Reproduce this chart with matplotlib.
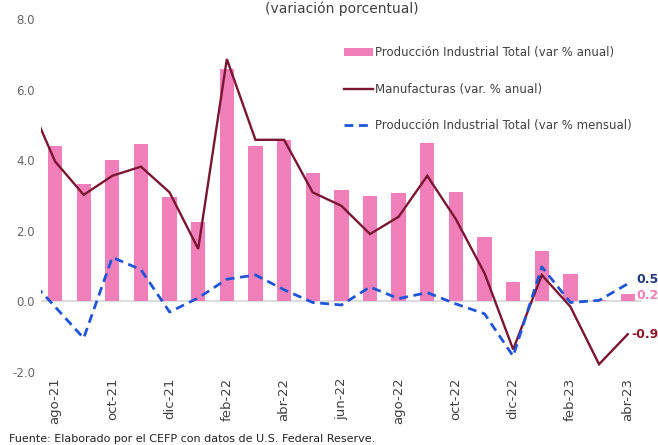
import matplotlib
matplotlib.use("Agg")
import matplotlib.pyplot as plt
import numpy as np
from matplotlib.patches import Patch
from matplotlib.lines import Line2D

months = ["jul-21", "ago-21", "sep-21", "oct-21", "nov-21", "dic-21", "ene-22", "feb-22", "mar-22",
          "abr-22", "may-22", "jun-22", "jul-22", "ago-22", "sep-22", "oct-22", "nov-22",
          "dic-22", "ene-23", "feb-23", "mar-23", "abr-23"]
tick_labels = ["ago-21", "oct-21", "dic-21", "feb-22", "abr-22", "jun-22", "ago-22",
               "oct-22", "dic-22", "feb-23", "abr-23"]
# bars start at ago-21 (jul-21 not shown as bar)
prod_anual = [None, 4.41, 3.34, 4.00, 4.46, 2.96, 2.26, 6.59, 4.41, 4.58, 3.65, 3.17, 2.98, 3.08,
              4.48, 3.09, 1.83, 0.55, 1.43, 0.79, 0.04, 0.22]
manuf_anual = [5.83, 3.97, 3.02, 3.56, 3.82, 3.09, 1.49, 6.87, 4.58, 4.58, 3.09, 2.71, 1.91, 2.40,
               3.56, 2.33, 0.80, -1.36, 0.75, -0.15, -1.78, -0.93]
prod_mensual = [0.73, -0.15, -1.04, 1.25, 0.90, -0.30, 0.10, 0.63, 0.75, 0.33, -0.03, -0.10, 0.41,
                0.08, 0.25, -0.07, -0.35, -1.55, 0.98, -0.03, 0.03, 0.50]

PINK = "#F07FBA"
MAROON = "#7A1632"
BLUE = "#1F55D6"
TXT = "#404040"
GRAY = "#666666"

font = "DejaVu Sans"
plt.rcParams['font.family'] = [font]

fig = plt.figure(figsize=(6.58, 4.45), dpi=100)
ax = fig.add_axes([0.0619, 0.164, 0.9138, 0.793])

x = np.arange(len(months)) - 1  # jul-21 at -1 (outside the view)
bx = [xi for xi, v in zip(x, prod_anual) if v is not None]
bv = [v for v in prod_anual if v is not None]
ax.bar(bx, bv, width=0.5, color=PINK, zorder=2)
ax.plot(x, manuf_anual, color=MAROON, lw=1.7, zorder=3, solid_joinstyle='miter')
ax.plot(x, prod_mensual, color=BLUE, lw=2.0, ls=(0, (3.2, 2.0)), zorder=3)

ax.axhline(0, color="#D9D9D9", lw=1.3, zorder=1)
ax.set_xlim(-0.5, len(months) - 1.5)
ax.set_ylim(-2, 8)
ax.set_yticks(np.arange(-2, 8.1, 2))
ax.set_yticklabels([f"{v:.1f}" for v in np.arange(-2, 8.1, 2)], color=GRAY, fontsize=8.5)
tick_pos = [months.index(t) - 1 for t in tick_labels]
ax.set_xticks(tick_pos)
ax.set_xticklabels(tick_labels, rotation=90, fontsize=9.5, color=TXT)
ax.tick_params(length=0, axis='both', pad=4)
for s in ax.spines.values():
    s.set_visible(False)

# end labels
last = x[-1]
ax.annotate(f"{prod_mensual[-1]:.1f}", (last, prod_mensual[-1]), xytext=(6, 3),
            textcoords="offset points", color="#1F3A7A", fontsize=9, fontweight="bold",
            va="center", ha="left", annotation_clip=False)
ax.annotate(f"{prod_anual[-1]:.1f}", (last, prod_anual[-1]), xytext=(6, -1),
            textcoords="offset points", color=PINK, fontsize=9, fontweight="bold",
            va="center", ha="left", annotation_clip=False)
ax.annotate(f"{manuf_anual[-1]:.1f}", (last, manuf_anual[-1]), xytext=(3, 0),
            textcoords="offset points", color="#8B1A2B", fontsize=9, fontweight="bold",
            va="center", ha="left", annotation_clip=False)

handles = [Patch(facecolor=PINK, edgecolor='none'),
           Line2D([], [], color=MAROON, lw=1.7),
           Line2D([], [], color=BLUE, lw=2.0, ls=(0, (3.2, 2.0)))]
labels = ["Producción Industrial Total (var % anual)", "Manufacturas (var. % anual)",
          "Producción Industrial Total (var % mensual)"]
leg = ax.legend(handles, labels, loc="upper left", bbox_to_anchor=(0.497, 0.937), frameon=False,
                fontsize=8.5, labelspacing=2.0, handlelength=2.4, handletextpad=0.2,
                handleheight=0.6, borderaxespad=0)
for t in leg.get_texts():
    t.set_color(TXT)

fig.text(0.52, 0.997, "(variación porcentual)", ha="center", va="top", fontsize=10, color=TXT)
fig.text(0.014, 0.003, "Fuente: Elaborado por el CEFP con datos de U.S. Federal Reserve.",
         ha="left", va="bottom", fontsize=8, color="#222222")

fig.savefig("out.png", dpi=100)
